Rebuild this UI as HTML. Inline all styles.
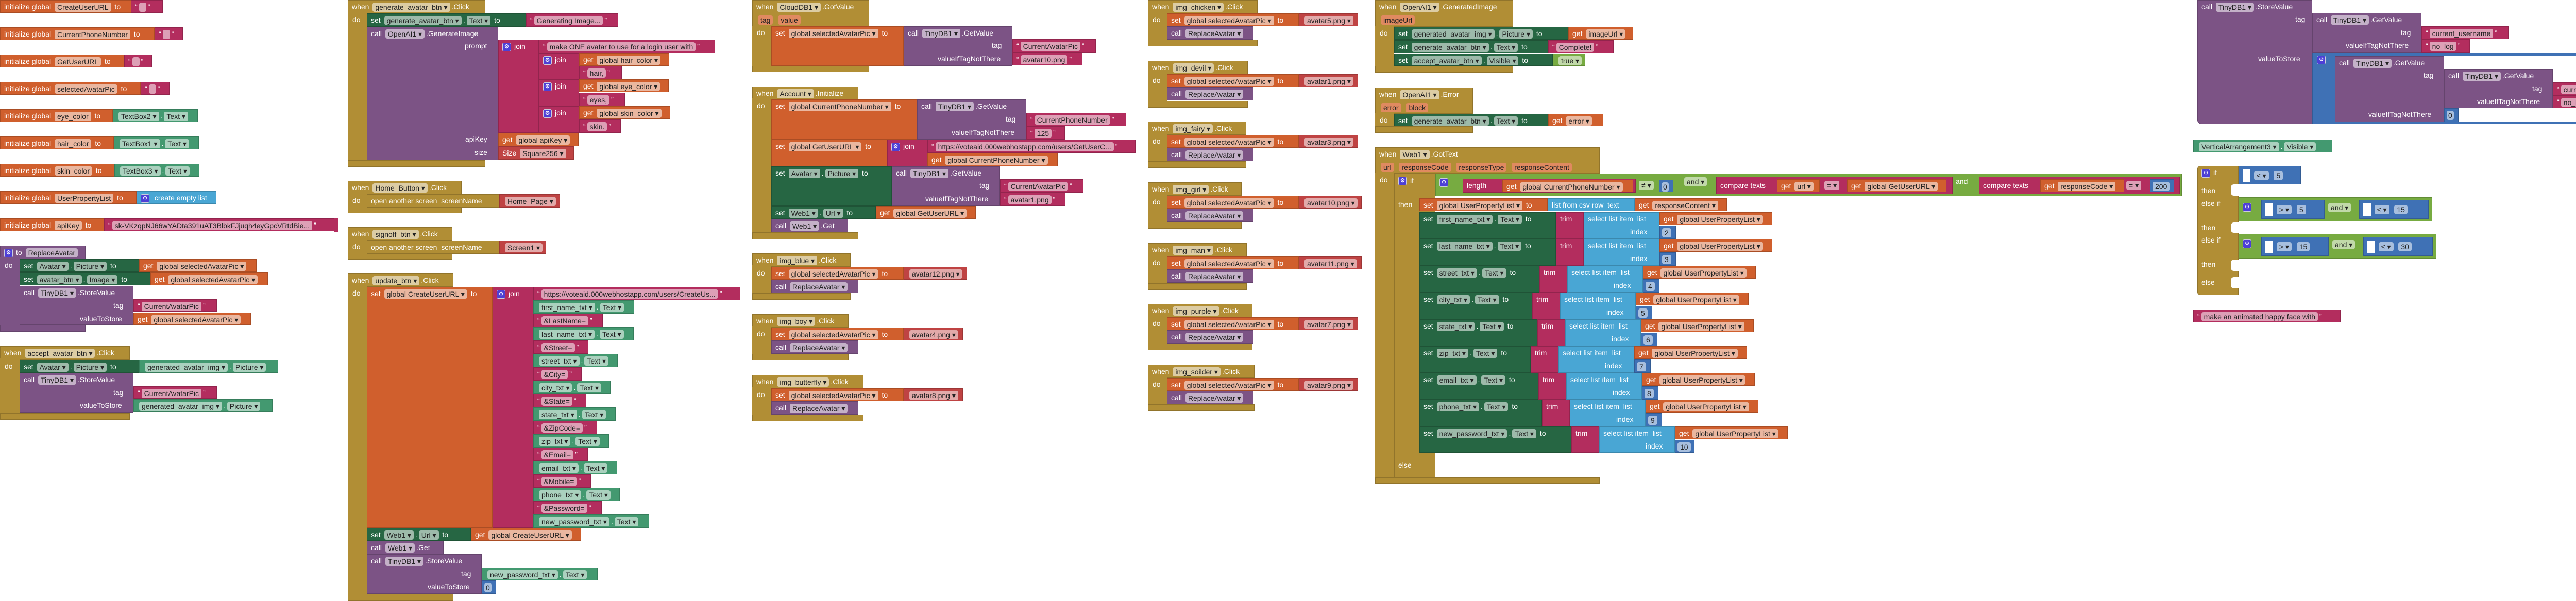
<!DOCTYPE html>
<html><head><meta charset="utf-8"><style>
html,body{margin:0;padding:0;background:#fff;}
body{width:5200px;height:1167px;position:relative;overflow:hidden;font-family:"Liberation Sans",Arial,sans-serif;}
.b{position:absolute;box-sizing:border-box;color:#fff;font-size:14px;line-height:25px;white-space:nowrap;overflow:hidden;padding-left:7px;border:1px solid rgba(0,0,0,.18);}
.t{position:absolute;color:#fff;font-size:14px;line-height:25px;white-space:nowrap;}
.g{background:#B18E35}.o{background:#D05F2D}.dg{background:#266643}.lg{background:#439970}.p{background:#7C5385}.m{background:#B32D5E}.r{background:#BF4343}.lb{background:#49A6D4}.mb{background:#3F71B5}.lo{background:#77AB41}
.k{display:inline-block;line-height:18px;padding:0 5px;border-radius:4px;background:rgba(255,255,255,.55);color:#222;margin:0 3px;vertical-align:middle}
.ic{display:inline-block;width:15px;height:15px;line-height:15px;text-align:center;font-size:11px;background:#4d3fd6;border:1px solid #ccd;border-radius:3px;color:#fff;vertical-align:middle;margin-right:6px}
.nb{border:none}
</style></head><body>

<!-- ===== left column: initialize globals ===== -->
<div class="b o" style="left:0;top:0;width:255px;height:25px">initialize global <span class="k">CreateUserURL</span> to</div>
<div class="b m" style="left:254px;top:0;width:62px;height:25px">“<span class="k">&nbsp;</span>”</div>
<div class="b o" style="left:0;top:53px;width:300px;height:25px">initialize global <span class="k">CurrentPhoneNumber</span> to</div>
<div class="b m" style="left:300px;top:53px;width:55px;height:25px">“<span class="k">&nbsp;</span>”</div>
<div class="b o" style="left:0;top:106px;width:241px;height:25px">initialize global <span class="k">GetUserURL</span> to</div>
<div class="b m" style="left:241px;top:106px;width:54px;height:25px">“<span class="k">&nbsp;</span>”</div>
<div class="b o" style="left:0;top:159px;width:273px;height:25px">initialize global <span class="k">selectedAvatarPic</span> to</div>
<div class="b m" style="left:273px;top:159px;width:56px;height:25px">“<span class="k">&nbsp;</span>”</div>
<div class="b o" style="left:0;top:212px;width:219px;height:25px">initialize global <span class="k">eye_color</span> to</div>
<div class="b lg" style="left:219px;top:212px;width:165px;height:25px"><span class="k">TextBox2 ▾</span>.<span class="k">Text ▾</span></div>
<div class="b o" style="left:0;top:265px;width:221px;height:25px">initialize global <span class="k">hair_color</span> to</div>
<div class="b lg" style="left:221px;top:265px;width:165px;height:25px"><span class="k">TextBox1 ▾</span>.<span class="k">Text ▾</span></div>
<div class="b o" style="left:0;top:318px;width:222px;height:25px">initialize global <span class="k">skin_color</span> to</div>
<div class="b lg" style="left:222px;top:318px;width:165px;height:25px"><span class="k">TextBox3 ▾</span>.<span class="k">Text ▾</span></div>
<div class="b o" style="left:0;top:371px;width:265px;height:25px">initialize global <span class="k">UserPropertyList</span> to</div>
<div class="b lb" style="left:265px;top:371px;width:155px;height:25px"><span class="ic">⚙</span> create empty list</div>
<div class="b o" style="left:0;top:424px;width:202px;height:25px">initialize global <span class="k">apiKey</span> to</div>
<div class="b m" style="left:202px;top:424px;width:448px;height:25px">“<span class="k">sk-VKzqpNJ66wYADta391uAT3BlbkFJjuqh4eyGpcVRtdBie...</span>”</div>

<!-- ReplaceAvatar procedure -->
<div class="b p" style="left:0;top:477px;width:166px;height:26px"><span class="ic">⚙</span>to <span class="k">ReplaceAvatar</span></div>
<div class="b p nb" style="left:0;top:500px;width:38px;height:144px"></div>
<div class="b p" style="left:0;top:631px;width:166px;height:13px"></div>
<div class="t" style="left:9px;top:503px">do</div>
<div class="b dg" style="left:38px;top:503px;width:232px;height:25px">set <span class="k">Avatar ▾</span>.<span class="k">Picture ▾</span> to</div>
<div class="b o" style="left:270px;top:503px;width:228px;height:25px">get <span class="k">global selectedAvatarPic ▾</span></div>
<div class="b dg" style="left:38px;top:529px;width:254px;height:25px">set <span class="k">avatar_btn ▾</span>.<span class="k">Image ▾</span> to</div>
<div class="b o" style="left:292px;top:529px;width:228px;height:25px">get <span class="k">global selectedAvatarPic ▾</span></div>
<div class="b p" style="left:38px;top:555px;width:221px;height:76px">call <span class="k">TinyDB1 ▾</span>.StoreValue</div>
<div class="t" style="left:220px;top:581px">tag</div>
<div class="t" style="left:155px;top:607px">valueToStore</div>
<div class="b m" style="left:259px;top:581px;width:162px;height:24px">“<span class="k">CurrentAvatarPic</span>”</div>
<div class="b o" style="left:259px;top:607px;width:228px;height:24px">get <span class="k">global selectedAvatarPic ▾</span></div>

<!-- accept_avatar_btn -->
<div class="b g" style="left:0;top:672px;width:252px;height:27px">when <span class="k">accept_avatar_btn ▾</span>.Click</div>
<div class="b g nb" style="left:0;top:695px;width:38px;height:120px"></div>
<div class="b g" style="left:0;top:802px;width:252px;height:13px"></div>
<div class="t" style="left:9px;top:699px">do</div>
<div class="b dg" style="left:38px;top:699px;width:232px;height:25px">set <span class="k">Avatar ▾</span>.<span class="k">Picture ▾</span> to</div>
<div class="b lg" style="left:270px;top:699px;width:270px;height:25px"><span class="k">generated_avatar_img ▾</span>.<span class="k">Picture ▾</span></div>
<div class="b p" style="left:38px;top:724px;width:221px;height:77px">call <span class="k">TinyDB1 ▾</span>.StoreValue</div>
<div class="t" style="left:220px;top:750px">tag</div>
<div class="t" style="left:155px;top:775px">valueToStore</div>
<div class="b m" style="left:259px;top:750px;width:162px;height:24px">“<span class="k">CurrentAvatarPic</span>”</div>
<div class="b lg" style="left:259px;top:775px;width:270px;height:25px"><span class="k">generated_avatar_img ▾</span>.<span class="k">Picture ▾</span></div>

<!-- ===== column 2 ===== -->
<div class="b g" style="left:675px;top:0;width:267px;height:26px">when <span class="k">generate_avatar_btn ▾</span>.Click</div>
<div class="b g nb" style="left:675px;top:22px;width:37px;height:302px"></div>
<div class="b g" style="left:675px;top:311px;width:267px;height:13px"></div>
<div class="t" style="left:684px;top:26px">do</div>
<div class="b dg" style="left:712px;top:26px;width:309px;height:26px">set <span class="k">generate_avatar_btn ▾</span>.<span class="k">Text ▾</span> to</div>
<div class="b m" style="left:1021px;top:26px;width:179px;height:26px">“<span class="k">Generating Image...</span>”</div>
<div class="b p" style="left:712px;top:52px;width:255px;height:259px">call <span class="k">OpenAI1 ▾</span>.GenerateImage</div>
<div class="t" style="left:902px;top:77px">prompt</div>
<div class="t" style="left:903px;top:258px">apiKey</div>
<div class="t" style="left:921px;top:284px">size</div>
<div class="b m" style="left:967px;top:77px;width:79px;height:181px"><span class="ic">⚙</span>join</div>
<div class="b m" style="left:1046px;top:77px;width:342px;height:26px">“<span class="k">make ONE avatar to use for a login user with</span>”</div>
<div class="b m" style="left:1046px;top:103px;width:78px;height:51px"><span class="ic">⚙</span>join</div>
<div class="b o" style="left:1124px;top:103px;width:175px;height:25px">get <span class="k">global hair_color ▾</span></div>
<div class="b m" style="left:1124px;top:128px;width:83px;height:26px">“<span class="k">hair,</span>”</div>
<div class="b m" style="left:1046px;top:154px;width:78px;height:52px"><span class="ic">⚙</span>join</div>
<div class="b o" style="left:1124px;top:154px;width:174px;height:25px">get <span class="k">global eye_color ▾</span></div>
<div class="b m" style="left:1124px;top:180px;width:89px;height:26px">“<span class="k">eyes,</span>”</div>
<div class="b m" style="left:1046px;top:206px;width:78px;height:52px"><span class="ic">⚙</span>join</div>
<div class="b o" style="left:1124px;top:206px;width:177px;height:25px">get <span class="k">global skin_color ▾</span></div>
<div class="b m" style="left:1124px;top:232px;width:81px;height:26px">“<span class="k">skin.</span>”</div>
<div class="b o" style="left:967px;top:258px;width:156px;height:26px">get <span class="k">global apiKey ▾</span></div>
<div class="b r" style="left:967px;top:284px;width:147px;height:26px">Size <span class="k">Square256 ▾</span></div>

<div class="b g" style="left:675px;top:351px;width:221px;height:26px">when <span class="k">Home_Button ▾</span>.Click</div>
<div class="b g nb" style="left:675px;top:375px;width:37px;height:39px"></div>
<div class="b g" style="left:675px;top:403px;width:221px;height:11px"></div>
<div class="t" style="left:684px;top:377px">do</div>
<div class="b g" style="left:712px;top:377px;width:257px;height:26px">open another screen &nbsp;screenName</div>
<div class="b r" style="left:969px;top:377px;width:118px;height:26px"><span class="k">Home_Page ▾</span></div>

<div class="b g" style="left:675px;top:441px;width:203px;height:26px">when <span class="k">signoff_btn ▾</span>.Click</div>
<div class="b g nb" style="left:675px;top:465px;width:37px;height:39px"></div>
<div class="b g" style="left:675px;top:493px;width:203px;height:11px"></div>
<div class="t" style="left:684px;top:467px">do</div>
<div class="b g" style="left:712px;top:467px;width:257px;height:26px">open another screen &nbsp;screenName</div>
<div class="b r" style="left:969px;top:467px;width:91px;height:26px"><span class="k">Screen1 ▾</span></div>
<div class="b m nb" style="left:649px;top:424px;width:2px;height:26px"></div>

<div class="b g" style="left:675px;top:531px;width:205px;height:26px">when <span class="k">update_btn ▾</span>.Click</div>
<div class="b g nb" style="left:675px;top:555px;width:37px;height:612px"></div>
<div class="b g" style="left:675px;top:1153px;width:205px;height:14px"></div>
<div class="t" style="left:684px;top:557px">do</div>
<div class="b o" style="left:712px;top:557px;width:244px;height:468px">set <span class="k">global CreateUserURL ▾</span> to</div>
<div class="b m" style="left:956px;top:557px;width:79px;height:468px"><span class="ic">⚙</span>join</div>
<div class="b m" style="left:1035px;top:557px;width:402px;height:26px">“<span class="k">https://voteaid.000webhostapp.com/users/CreateUs...</span>”</div>
<div class="b lg" style="left:1035px;top:583px;width:196px;height:26px"><span class="k">first_name_txt ▾</span>.<span class="k">Text ▾</span></div>
<div class="b m" style="left:1035px;top:609px;width:135px;height:26px">“<span class="k">&amp;LastName=</span>”</div>
<div class="b lg" style="left:1035px;top:635px;width:195px;height:26px"><span class="k">last_name_txt ▾</span>.<span class="k">Text ▾</span></div>
<div class="b m" style="left:1035px;top:661px;width:107px;height:26px">“<span class="k">&amp;Street=</span>”</div>
<div class="b lg" style="left:1035px;top:687px;width:164px;height:26px"><span class="k">street_txt ▾</span>.<span class="k">Text ▾</span></div>
<div class="b m" style="left:1035px;top:713px;width:94px;height:26px">“<span class="k">&amp;City=</span>”</div>
<div class="b lg" style="left:1035px;top:739px;width:150px;height:26px"><span class="k">city_txt ▾</span>.<span class="k">Text ▾</span></div>
<div class="b m" style="left:1035px;top:765px;width:103px;height:26px">“<span class="k">&amp;State=</span>”</div>
<div class="b lg" style="left:1035px;top:791px;width:160px;height:26px"><span class="k">state_txt ▾</span>.<span class="k">Text ▾</span></div>
<div class="b m" style="left:1035px;top:817px;width:124px;height:26px">“<span class="k">&amp;ZipCode=</span>”</div>
<div class="b lg" style="left:1035px;top:843px;width:147px;height:26px"><span class="k">zip_txt ▾</span>.<span class="k">Text ▾</span></div>
<div class="b m" style="left:1035px;top:869px;width:106px;height:26px">“<span class="k">&amp;Email=</span>”</div>
<div class="b lg" style="left:1035px;top:895px;width:163px;height:26px"><span class="k">email_txt ▾</span>.<span class="k">Text ▾</span></div>
<div class="b m" style="left:1035px;top:921px;width:112px;height:26px">“<span class="k">&amp;Mobile=</span>”</div>
<div class="b lg" style="left:1035px;top:947px;width:168px;height:26px"><span class="k">phone_txt ▾</span>.<span class="k">Text ▾</span></div>
<div class="b m" style="left:1035px;top:973px;width:133px;height:26px">“<span class="k">&amp;Password=</span>”</div>
<div class="b lg" style="left:1035px;top:999px;width:225px;height:26px"><span class="k">new_password_txt ▾</span>.<span class="k">Text ▾</span></div>
<div class="b dg" style="left:712px;top:1025px;width:202px;height:25px">set <span class="k">Web1 ▾</span>.<span class="k">Url ▾</span> to</div>
<div class="b o" style="left:914px;top:1025px;width:214px;height:25px">get <span class="k">global CreateUserURL ▾</span></div>
<div class="b p" style="left:712px;top:1050px;width:149px;height:26px">call <span class="k">Web1 ▾</span>.Get</div>
<div class="b p" style="left:712px;top:1076px;width:223px;height:77px">call <span class="k">TinyDB1 ▾</span>.StoreValue</div>
<div class="t" style="left:895px;top:1102px">tag</div>
<div class="t" style="left:830px;top:1127px">valueToStore</div>
<div class="b lg" style="left:935px;top:1102px;width:225px;height:25px"><span class="k">new_password_txt ▾</span>.<span class="k">Text ▾</span></div>
<div class="b mb" style="left:935px;top:1127px;width:28px;height:26px;padding-left:4px"><span class="k" style="margin:0;padding:0 3px">0</span></div>

<!-- ===== column 3 ===== -->
<div class="b g" style="left:1460px;top:0;width:227px;height:51px">when <span class="k">CloudDB1 ▾</span>.GotValue<br><span class="k" style="background:#e08a60">tag</span> <span class="k" style="background:#e08a60">value</span></div>
<div class="b g nb" style="left:1460px;top:50px;width:37px;height:90px"></div>
<div class="b g" style="left:1460px;top:128px;width:227px;height:12px"></div>
<div class="t" style="left:1469px;top:51px">do</div>
<div class="b o" style="left:1497px;top:51px;width:257px;height:77px">set <span class="k">global selectedAvatarPic ▾</span> to</div>
<div class="b p" style="left:1754px;top:51px;width:211px;height:77px">call <span class="k">TinyDB1 ▾</span>.GetValue</div>
<div class="t" style="left:1925px;top:76px">tag</div>
<div class="t" style="left:1820px;top:102px">valueIfTagNotThere</div>
<div class="b m" style="left:1965px;top:76px;width:162px;height:26px">“<span class="k">CurrentAvatarPic</span>”</div>
<div class="b m" style="left:1965px;top:102px;width:136px;height:25px">“<span class="k">avatar10.png</span>”</div>

<div class="b g" style="left:1460px;top:168px;width:206px;height:25px">when <span class="k">Account ▾</span>.Initialize</div>
<div class="b g nb" style="left:1460px;top:190px;width:37px;height:275px"></div>
<div class="b g" style="left:1460px;top:451px;width:206px;height:14px"></div>
<div class="t" style="left:1469px;top:193px">do</div>
<div class="b o" style="left:1497px;top:193px;width:283px;height:78px">set <span class="k">global CurrentPhoneNumber ▾</span> to</div>
<div class="b p" style="left:1780px;top:193px;width:212px;height:78px">call <span class="k">TinyDB1 ▾</span>.GetValue</div>
<div class="t" style="left:1952px;top:219px">tag</div>
<div class="t" style="left:1847px;top:245px">valueIfTagNotThere</div>
<div class="b m" style="left:1992px;top:219px;width:194px;height:26px">“<span class="k">CurrentPhoneNumber</span>”</div>
<div class="b m" style="left:1992px;top:245px;width:75px;height:26px">“<span class="k">125</span>”</div>
<div class="b o" style="left:1497px;top:271px;width:225px;height:52px">set <span class="k">global GetUserURL ▾</span> to</div>
<div class="b m" style="left:1722px;top:271px;width:78px;height:52px"><span class="ic">⚙</span>join</div>
<div class="b m" style="left:1800px;top:271px;width:404px;height:26px">“<span class="k">https://voteaid.000webhostapp.com/users/GetUserC...</span>”</div>
<div class="b o" style="left:1800px;top:297px;width:253px;height:26px">get <span class="k">global CurrentPhoneNumber ▾</span></div>
<div class="b dg" style="left:1497px;top:323px;width:234px;height:77px">set <span class="k">Avatar ▾</span>.<span class="k">Picture ▾</span> to</div>
<div class="b p" style="left:1731px;top:323px;width:210px;height:77px">call <span class="k">TinyDB1 ▾</span>.GetValue</div>
<div class="t" style="left:1901px;top:348px">tag</div>
<div class="t" style="left:1796px;top:374px">valueIfTagNotThere</div>
<div class="b m" style="left:1941px;top:348px;width:162px;height:26px">“<span class="k">CurrentAvatarPic</span>”</div>
<div class="b m" style="left:1941px;top:374px;width:127px;height:26px">“<span class="k">avatar1.png</span>”</div>
<div class="b dg" style="left:1497px;top:400px;width:203px;height:25px">set <span class="k">Web1 ▾</span>.<span class="k">Url ▾</span> to</div>
<div class="b o" style="left:1700px;top:400px;width:194px;height:25px">get <span class="k">global GetUserURL ▾</span></div>
<div class="b p" style="left:1497px;top:425px;width:149px;height:26px">call <span class="k">Web1 ▾</span>.Get</div>

<!-- img blocks left -->
<div class="b g" style="left:1460px;top:492px;width:191px;height:26px">when <span class="k">img_blue ▾</span>.Click</div>
<div class="b g nb" style="left:1460px;top:515px;width:37px;height:67px"></div>
<div class="b g" style="left:1460px;top:569px;width:191px;height:13px"></div>
<div class="t" style="left:1469px;top:518px">do</div>
<div class="b o" style="left:1497px;top:518px;width:257px;height:25px">set <span class="k">global selectedAvatarPic ▾</span> to</div>
<div class="b r" style="left:1754px;top:518px;width:123px;height:25px"><span class="k">avatar12.png ▾</span></div>
<div class="b p" style="left:1497px;top:543px;width:169px;height:26px">call <span class="k">ReplaceAvatar ▾</span></div>

<div class="b g" style="left:1460px;top:610px;width:187px;height:26px">when <span class="k">img_boy ▾</span>.Click</div>
<div class="b g nb" style="left:1460px;top:633px;width:37px;height:67px"></div>
<div class="b g" style="left:1460px;top:687px;width:187px;height:13px"></div>
<div class="t" style="left:1469px;top:636px">do</div>
<div class="b o" style="left:1497px;top:636px;width:257px;height:25px">set <span class="k">global selectedAvatarPic ▾</span> to</div>
<div class="b r" style="left:1754px;top:636px;width:115px;height:25px"><span class="k">avatar4.png ▾</span></div>
<div class="b p" style="left:1497px;top:661px;width:169px;height:26px">call <span class="k">ReplaceAvatar ▾</span></div>

<div class="b g" style="left:1460px;top:728px;width:216px;height:26px">when <span class="k">img_butterfly ▾</span>.Click</div>
<div class="b g nb" style="left:1460px;top:751px;width:37px;height:67px"></div>
<div class="b g" style="left:1460px;top:805px;width:216px;height:13px"></div>
<div class="t" style="left:1469px;top:754px">do</div>
<div class="b o" style="left:1497px;top:754px;width:257px;height:25px">set <span class="k">global selectedAvatarPic ▾</span> to</div>
<div class="b r" style="left:1754px;top:754px;width:115px;height:25px"><span class="k">avatar8.png ▾</span></div>
<div class="b p" style="left:1497px;top:779px;width:169px;height:26px">call <span class="k">ReplaceAvatar ▾</span></div>

<!-- img blocks right -->
<div class="b g" style="left:2228px;top:0px;width:213px;height:26px">when <span class="k">img_chicken ▾</span>.Click</div>
<div class="b g nb" style="left:2228px;top:23px;width:37px;height:67px"></div>
<div class="b g" style="left:2228px;top:77px;width:213px;height:13px"></div>
<div class="t" style="left:2237px;top:26px">do</div>
<div class="b o" style="left:2265px;top:26px;width:256px;height:25px">set <span class="k">global selectedAvatarPic ▾</span> to</div>
<div class="b r" style="left:2521px;top:26px;width:115px;height:25px"><span class="k">avatar5.png ▾</span></div>
<div class="b p" style="left:2265px;top:51px;width:168px;height:26px">call <span class="k">ReplaceAvatar ▾</span></div>

<div class="b g" style="left:2228px;top:118px;width:194px;height:26px">when <span class="k">img_devil ▾</span>.Click</div>
<div class="b g nb" style="left:2228px;top:141px;width:37px;height:68px"></div>
<div class="b g" style="left:2228px;top:196px;width:194px;height:13px"></div>
<div class="t" style="left:2237px;top:144px">do</div>
<div class="b o" style="left:2265px;top:144px;width:256px;height:25px">set <span class="k">global selectedAvatarPic ▾</span> to</div>
<div class="b r" style="left:2521px;top:144px;width:115px;height:25px"><span class="k">avatar1.png ▾</span></div>
<div class="b p" style="left:2265px;top:169px;width:168px;height:26px">call <span class="k">ReplaceAvatar ▾</span></div>

<div class="b g" style="left:2228px;top:236px;width:191px;height:26px">when <span class="k">img_fairy ▾</span>.Click</div>
<div class="b g nb" style="left:2228px;top:259px;width:37px;height:67px"></div>
<div class="b g" style="left:2228px;top:313px;width:191px;height:13px"></div>
<div class="t" style="left:2237px;top:262px">do</div>
<div class="b o" style="left:2265px;top:262px;width:256px;height:25px">set <span class="k">global selectedAvatarPic ▾</span> to</div>
<div class="b r" style="left:2521px;top:262px;width:115px;height:25px"><span class="k">avatar3.png ▾</span></div>
<div class="b p" style="left:2265px;top:287px;width:168px;height:26px">call <span class="k">ReplaceAvatar ▾</span></div>

<div class="b g" style="left:2228px;top:354px;width:182px;height:26px">when <span class="k">img_girl ▾</span>.Click</div>
<div class="b g nb" style="left:2228px;top:377px;width:37px;height:67px"></div>
<div class="b g" style="left:2228px;top:431px;width:182px;height:13px"></div>
<div class="t" style="left:2237px;top:380px">do</div>
<div class="b o" style="left:2265px;top:380px;width:256px;height:25px">set <span class="k">global selectedAvatarPic ▾</span> to</div>
<div class="b r" style="left:2521px;top:380px;width:122px;height:25px"><span class="k">avatar10.png ▾</span></div>
<div class="b p" style="left:2265px;top:405px;width:168px;height:26px">call <span class="k">ReplaceAvatar ▾</span></div>

<div class="b g" style="left:2228px;top:472px;width:192px;height:26px">when <span class="k">img_man ▾</span>.Click</div>
<div class="b g nb" style="left:2228px;top:495px;width:37px;height:68px"></div>
<div class="b g" style="left:2228px;top:550px;width:192px;height:13px"></div>
<div class="t" style="left:2237px;top:498px">do</div>
<div class="b o" style="left:2265px;top:498px;width:256px;height:25px">set <span class="k">global selectedAvatarPic ▾</span> to</div>
<div class="b r" style="left:2521px;top:498px;width:122px;height:25px"><span class="k">avatar11.png ▾</span></div>
<div class="b p" style="left:2265px;top:523px;width:168px;height:26px">call <span class="k">ReplaceAvatar ▾</span></div>

<div class="b g" style="left:2228px;top:590px;width:203px;height:26px">when <span class="k">img_purple ▾</span>.Click</div>
<div class="b g nb" style="left:2228px;top:613px;width:37px;height:67px"></div>
<div class="b g" style="left:2228px;top:667px;width:203px;height:13px"></div>
<div class="t" style="left:2237px;top:616px">do</div>
<div class="b o" style="left:2265px;top:616px;width:256px;height:25px">set <span class="k">global selectedAvatarPic ▾</span> to</div>
<div class="b r" style="left:2521px;top:616px;width:115px;height:25px"><span class="k">avatar7.png ▾</span></div>
<div class="b p" style="left:2265px;top:641px;width:168px;height:26px">call <span class="k">ReplaceAvatar ▾</span></div>

<div class="b g" style="left:2228px;top:708px;width:207px;height:26px">when <span class="k">img_soilder ▾</span>.Click</div>
<div class="b g nb" style="left:2228px;top:731px;width:37px;height:67px"></div>
<div class="b g" style="left:2228px;top:785px;width:207px;height:13px"></div>
<div class="t" style="left:2237px;top:734px">do</div>
<div class="b o" style="left:2265px;top:734px;width:256px;height:25px">set <span class="k">global selectedAvatarPic ▾</span> to</div>
<div class="b r" style="left:2521px;top:734px;width:115px;height:25px"><span class="k">avatar9.png ▾</span></div>
<div class="b p" style="left:2265px;top:759px;width:168px;height:26px">call <span class="k">ReplaceAvatar ▾</span></div>

<!-- ===== OpenAI events ===== -->
<div class="b g" style="left:2669px;top:0;width:268px;height:52px">when <span class="k">OpenAI1 ▾</span>.GeneratedImage<br><span class="k" style="background:#e08a60">imageUrl</span></div>
<div class="b g nb" style="left:2669px;top:50px;width:37px;height:91px"></div>
<div class="b g" style="left:2669px;top:128px;width:268px;height:13px"></div>
<div class="t" style="left:2678px;top:52px">do</div>
<div class="b dg" style="left:2706px;top:52px;width:338px;height:25px">set <span class="k">generated_avatar_img ▾</span>.<span class="k">Picture ▾</span> to</div>
<div class="b o" style="left:3044px;top:52px;width:126px;height:25px">get <span class="k">imageUrl ▾</span></div>
<div class="b dg" style="left:2706px;top:78px;width:299px;height:25px">set <span class="k">generate_avatar_btn ▾</span>.<span class="k">Text ▾</span> to</div>
<div class="b m" style="left:3005px;top:78px;width:127px;height:25px">“<span class="k">Complete!</span>”</div>
<div class="b dg" style="left:2706px;top:104px;width:308px;height:24px">set <span class="k">accept_avatar_btn ▾</span>.<span class="k">Visible ▾</span> to</div>
<div class="b lo" style="left:3014px;top:104px;width:63px;height:24px"><span class="k">true ▾</span></div>

<div class="b g" style="left:2669px;top:170px;width:190px;height:51px">when <span class="k">OpenAI1 ▾</span>.Error<br><span class="k" style="background:#e08a60">error</span> <span class="k" style="background:#e08a60">block</span></div>
<div class="b g nb" style="left:2669px;top:219px;width:37px;height:39px"></div>
<div class="b g" style="left:2669px;top:245px;width:190px;height:13px"></div>
<div class="t" style="left:2678px;top:221px">do</div>
<div class="b dg" style="left:2706px;top:221px;width:299px;height:24px">set <span class="k">generate_avatar_btn ▾</span>.<span class="k">Text ▾</span> to</div>
<div class="b o" style="left:3005px;top:221px;width:107px;height:24px">get <span class="k">error ▾</span></div>

<!-- Web1.GotText -->
<div class="b g" style="left:2669px;top:286px;width:436px;height:51px">when <span class="k">Web1 ▾</span>.GotText<br><span class="k" style="background:#e08a60">url</span> <span class="k" style="background:#e08a60">responseCode</span> <span class="k" style="background:#e08a60">responseType</span> <span class="k" style="background:#e08a60">responseContent</span></div>
<div class="b g nb" style="left:2669px;top:335px;width:37px;height:604px"></div>
<div class="b g" style="left:2669px;top:927px;width:436px;height:12px"></div>
<div class="t" style="left:2678px;top:337px">do</div>
<div class="b g" style="left:2706px;top:337px;width:80px;height:590px"><span class="ic">⚙</span>if</div>
<div class="t" style="left:2714px;top:385px">then</div>
<div class="t" style="left:2714px;top:891px">else</div>
<div class="b lo" style="left:2786px;top:337px;width:1449px;height:44px;padding-top:3px"><span class="ic">⚙</span></div>
<div class="b lo" style="left:2826px;top:343px;width:435px;height:34px"></div>
<div class="b m" style="left:2839px;top:347px;width:336px;height:27px">length</div>
<div class="b o" style="left:2916px;top:349px;width:254px;height:24px">get <span class="k">global CurrentPhoneNumber ▾</span></div>
<div class="t" style="left:3178px;top:347px"><span class="k">≠ ▾</span></div>
<div class="b mb" style="left:3220px;top:349px;width:28px;height:24px;padding-left:4px"><span class="k" style="margin:0;padding:0 3px">0</span></div>
<div class="t" style="left:3266px;top:340px"><span class="k">and ▾</span></div>
<div class="b m" style="left:3331px;top:343px;width:459px;height:34px;line-height:32px">compare texts</div>
<div class="b o" style="left:3449px;top:348px;width:83px;height:25px">get <span class="k">url ▾</span></div>
<div class="t" style="left:3538px;top:347px"><span class="k">= ▾</span></div>
<div class="b o" style="left:3585px;top:348px;width:193px;height:25px">get <span class="k">global GetUserURL ▾</span></div>
<div class="t" style="left:3796px;top:340px">and</div>
<div class="b m" style="left:3841px;top:343px;width:390px;height:34px;line-height:32px">compare texts</div>
<div class="b o" style="left:3960px;top:348px;width:163px;height:25px">get <span class="k">responseCode ▾</span></div>
<div class="t" style="left:4124px;top:347px"><span class="k">= ▾</span></div>
<div class="b mb" style="left:4173px;top:348px;width:47px;height:25px;padding-left:4px"><span class="k" style="margin:0">200</span></div>

<div class="b o" style="left:2755px;top:385px;width:249px;height:25px">set <span class="k">global UserPropertyList ▾</span> to</div>
<div class="b lb" style="left:3004px;top:385px;width:169px;height:25px">list from csv row &nbsp;text</div>
<div class="b o" style="left:3173px;top:385px;width:179px;height:25px">get <span class="k">responseContent ▾</span></div>

<!-- 9 rows -->
<div class="b dg" style="left:2755px;top:412px;width:265px;height:52px">set <span class="k">first_name_txt ▾</span>.<span class="k">Text ▾</span> to</div>
<div class="b m" style="left:3020px;top:412px;width:54px;height:52px">trim</div>
<div class="b lb" style="left:3074px;top:412px;width:147px;height:52px">select list item &nbsp;list<br><span style="padding-left:82px">index</span></div>
<div class="b o" style="left:3221px;top:412px;width:219px;height:25px">get <span class="k">global UserPropertyList ▾</span></div>
<div class="b mb" style="left:3221px;top:438px;width:32px;height:26px;padding-left:4px"><span class="k" style="margin:0">2</span></div>

<div class="b dg" style="left:2755px;top:464px;width:265px;height:52px">set <span class="k">last_name_txt ▾</span>.<span class="k">Text ▾</span> to</div>
<div class="b m" style="left:3020px;top:464px;width:54px;height:52px">trim</div>
<div class="b lb" style="left:3074px;top:464px;width:147px;height:52px">select list item &nbsp;list<br><span style="padding-left:82px">index</span></div>
<div class="b o" style="left:3221px;top:464px;width:219px;height:25px">get <span class="k">global UserPropertyList ▾</span></div>
<div class="b mb" style="left:3221px;top:490px;width:32px;height:26px;padding-left:4px"><span class="k" style="margin:0">3</span></div>

<div class="b dg" style="left:2755px;top:516px;width:233px;height:52px">set <span class="k">street_txt ▾</span>.<span class="k">Text ▾</span> to</div>
<div class="b m" style="left:2988px;top:516px;width:54px;height:52px">trim</div>
<div class="b lb" style="left:3042px;top:516px;width:147px;height:52px">select list item &nbsp;list<br><span style="padding-left:82px">index</span></div>
<div class="b o" style="left:3189px;top:516px;width:219px;height:25px">get <span class="k">global UserPropertyList ▾</span></div>
<div class="b mb" style="left:3189px;top:542px;width:32px;height:26px;padding-left:4px"><span class="k" style="margin:0">4</span></div>

<div class="b dg" style="left:2755px;top:568px;width:219px;height:52px">set <span class="k">city_txt ▾</span>.<span class="k">Text ▾</span> to</div>
<div class="b m" style="left:2974px;top:568px;width:54px;height:52px">trim</div>
<div class="b lb" style="left:3028px;top:568px;width:147px;height:52px">select list item &nbsp;list<br><span style="padding-left:82px">index</span></div>
<div class="b o" style="left:3175px;top:568px;width:219px;height:25px">get <span class="k">global UserPropertyList ▾</span></div>
<div class="b mb" style="left:3175px;top:594px;width:32px;height:26px;padding-left:4px"><span class="k" style="margin:0">5</span></div>

<div class="b dg" style="left:2755px;top:620px;width:229px;height:52px">set <span class="k">state_txt ▾</span>.<span class="k">Text ▾</span> to</div>
<div class="b m" style="left:2984px;top:620px;width:54px;height:52px">trim</div>
<div class="b lb" style="left:3038px;top:620px;width:147px;height:52px">select list item &nbsp;list<br><span style="padding-left:82px">index</span></div>
<div class="b o" style="left:3185px;top:620px;width:219px;height:25px">get <span class="k">global UserPropertyList ▾</span></div>
<div class="b mb" style="left:3185px;top:646px;width:32px;height:26px;padding-left:4px"><span class="k" style="margin:0">6</span></div>

<div class="b dg" style="left:2755px;top:672px;width:216px;height:52px">set <span class="k">zip_txt ▾</span>.<span class="k">Text ▾</span> to</div>
<div class="b m" style="left:2971px;top:672px;width:54px;height:52px">trim</div>
<div class="b lb" style="left:3025px;top:672px;width:147px;height:52px">select list item &nbsp;list<br><span style="padding-left:82px">index</span></div>
<div class="b o" style="left:3172px;top:672px;width:219px;height:25px">get <span class="k">global UserPropertyList ▾</span></div>
<div class="b mb" style="left:3172px;top:698px;width:32px;height:26px;padding-left:4px"><span class="k" style="margin:0">7</span></div>

<div class="b dg" style="left:2755px;top:724px;width:231px;height:52px">set <span class="k">email_txt ▾</span>.<span class="k">Text ▾</span> to</div>
<div class="b m" style="left:2986px;top:724px;width:54px;height:52px">trim</div>
<div class="b lb" style="left:3040px;top:724px;width:147px;height:52px">select list item &nbsp;list<br><span style="padding-left:82px">index</span></div>
<div class="b o" style="left:3187px;top:724px;width:219px;height:25px">get <span class="k">global UserPropertyList ▾</span></div>
<div class="b mb" style="left:3187px;top:750px;width:32px;height:26px;padding-left:4px"><span class="k" style="margin:0">8</span></div>

<div class="b dg" style="left:2755px;top:776px;width:238px;height:52px">set <span class="k">phone_txt ▾</span>.<span class="k">Text ▾</span> to</div>
<div class="b m" style="left:2993px;top:776px;width:54px;height:52px">trim</div>
<div class="b lb" style="left:3047px;top:776px;width:147px;height:52px">select list item &nbsp;list<br><span style="padding-left:82px">index</span></div>
<div class="b o" style="left:3194px;top:776px;width:219px;height:25px">get <span class="k">global UserPropertyList ▾</span></div>
<div class="b mb" style="left:3194px;top:802px;width:32px;height:26px;padding-left:4px"><span class="k" style="margin:0">9</span></div>

<div class="b dg" style="left:2755px;top:828px;width:295px;height:51px">set <span class="k">new_password_txt ▾</span>.<span class="k">Text ▾</span> to</div>
<div class="b m" style="left:3050px;top:828px;width:54px;height:51px">trim</div>
<div class="b lb" style="left:3104px;top:828px;width:147px;height:51px">select list item &nbsp;list<br><span style="padding-left:82px">index</span></div>
<div class="b o" style="left:3251px;top:828px;width:219px;height:25px">get <span class="k">global UserPropertyList ▾</span></div>
<div class="b mb" style="left:3251px;top:854px;width:38px;height:25px;padding-left:4px"><span class="k" style="margin:0">10</span></div>

<!-- ===== right-most column ===== -->
<div class="b p" style="left:4265px;top:0;width:223px;height:241px;border-radius:0 0 0 8px">call <span class="k">TinyDB1 ▾</span>.StoreValue</div>
<div class="t" style="left:4455px;top:25px">tag</div>
<div class="t" style="left:4383px;top:102px">valueToStore</div>
<div class="b p" style="left:4488px;top:25px;width:212px;height:77px">call <span class="k">TinyDB1 ▾</span>.GetValue</div>
<div class="t" style="left:4660px;top:51px">tag</div>
<div class="t" style="left:4553px;top:76px">valueIfTagNotThere</div>
<div class="b m" style="left:4700px;top:51px;width:169px;height:25px">“<span class="k">current_username</span>”</div>
<div class="b m" style="left:4700px;top:76px;width:94px;height:26px">“<span class="k">no_log</span>”</div>
<div class="b mb" style="left:4488px;top:102px;width:697px;height:139px;padding-left:8px"><span class="ic">⚙</span></div>
<div class="b nb" style="left:4532px;top:108px;width:592px;height:129px;background:#fff"></div>
<div class="b p" style="left:4532px;top:109px;width:212px;height:128px">call <span class="k">TinyDB1 ▾</span>.GetValue</div>
<div class="t" style="left:4704px;top:134px">tag</div>
<div class="t" style="left:4597px;top:210px">valueIfTagNotThere</div>
<div class="b p" style="left:4744px;top:134px;width:211px;height:76px">call <span class="k">TinyDB1 ▾</span>.GetValue</div>
<div class="t" style="left:4915px;top:160px">tag</div>
<div class="t" style="left:4808px;top:185px">valueIfTagNotThere</div>
<div class="b m" style="left:4955px;top:160px;width:169px;height:25px">“<span class="k">current_username</span>”</div>
<div class="b m" style="left:4955px;top:185px;width:94px;height:25px">“<span class="k">no_log</span>”</div>
<div class="b mb" style="left:4744px;top:210px;width:28px;height:27px;padding-left:4px"><span class="k" style="margin:0;padding:0 3px">0</span></div>
<div class="t" style="left:5133px;top:108px">+</div>
<div class="b mb" style="left:5153px;top:108px;width:32px;height:26px;padding-left:4px"><span class="k" style="margin:0">1</span></div>

<div class="b lg" style="left:4257px;top:271px;width:270px;height:25px"><span class="k">VerticalArrangement3 ▾</span>.<span class="k">Visible ▾</span></div>

<div class="b g" style="left:4265px;top:322px;width:80px;height:251px;border-radius:6px 0 0 6px"><span class="ic">⚙</span>if</div>
<div class="t" style="left:4273px;top:358px">then</div>
<div class="t" style="left:4273px;top:383px">else if</div>
<div class="t" style="left:4273px;top:430px">then</div>
<div class="t" style="left:4273px;top:454px">else if</div>
<div class="t" style="left:4273px;top:501px">then</div>
<div class="t" style="left:4273px;top:536px">else</div>
<div class="b nb" style="left:4330px;top:358px;width:15px;height:22px;background:#fff;border-radius:6px 0 0 6px"></div>
<div class="b nb" style="left:4330px;top:432px;width:15px;height:20px;background:#fff;border-radius:6px 0 0 6px"></div>
<div class="b nb" style="left:4330px;top:504px;width:15px;height:22px;background:#fff;border-radius:6px 0 0 6px"></div>
<div class="b nb" style="left:4330px;top:538px;width:15px;height:22px;background:#fff;border-radius:6px 0 0 6px"></div>
<div class="b mb" style="left:4345px;top:322px;width:121px;height:36px;padding-top:5px"><span style="display:inline-block;width:15px;height:24px;background:#fff;vertical-align:middle"></span> <span class="k">≤ ▾</span> <span class="k">5</span></div>
<div class="b lo" style="left:4345px;top:383px;width:376px;height:47px;padding-top:5px"><span class="ic">⚙</span></div>
<div class="b mb" style="left:4389px;top:388px;width:123px;height:37px;padding-top:5px"><span style="display:inline-block;width:15px;height:24px;background:#fff;vertical-align:middle"></span> <span class="k">&gt; ▾</span> <span class="k">5</span></div>
<div class="t" style="left:4516px;top:390px"><span class="k">and ▾</span></div>
<div class="b mb" style="left:4579px;top:388px;width:135px;height:37px;padding-top:5px"><span style="display:inline-block;width:15px;height:24px;background:#fff;vertical-align:middle"></span> <span class="k">≤ ▾</span> <span class="k">15</span></div>
<div class="b lo" style="left:4345px;top:454px;width:384px;height:48px;padding-top:5px"><span class="ic">⚙</span></div>
<div class="b mb" style="left:4389px;top:460px;width:131px;height:37px;padding-top:5px"><span style="display:inline-block;width:15px;height:24px;background:#fff;vertical-align:middle"></span> <span class="k">&gt; ▾</span> <span class="k">15</span></div>
<div class="t" style="left:4524px;top:462px"><span class="k">and ▾</span></div>
<div class="b mb" style="left:4587px;top:460px;width:135px;height:37px;padding-top:5px"><span style="display:inline-block;width:15px;height:24px;background:#fff;vertical-align:middle"></span> <span class="k">≤ ▾</span> <span class="k">30</span></div>

<div class="b m" style="left:4257px;top:601px;width:286px;height:25px">“<span class="k">make an animated happy face with</span>”</div>

</body></html>
